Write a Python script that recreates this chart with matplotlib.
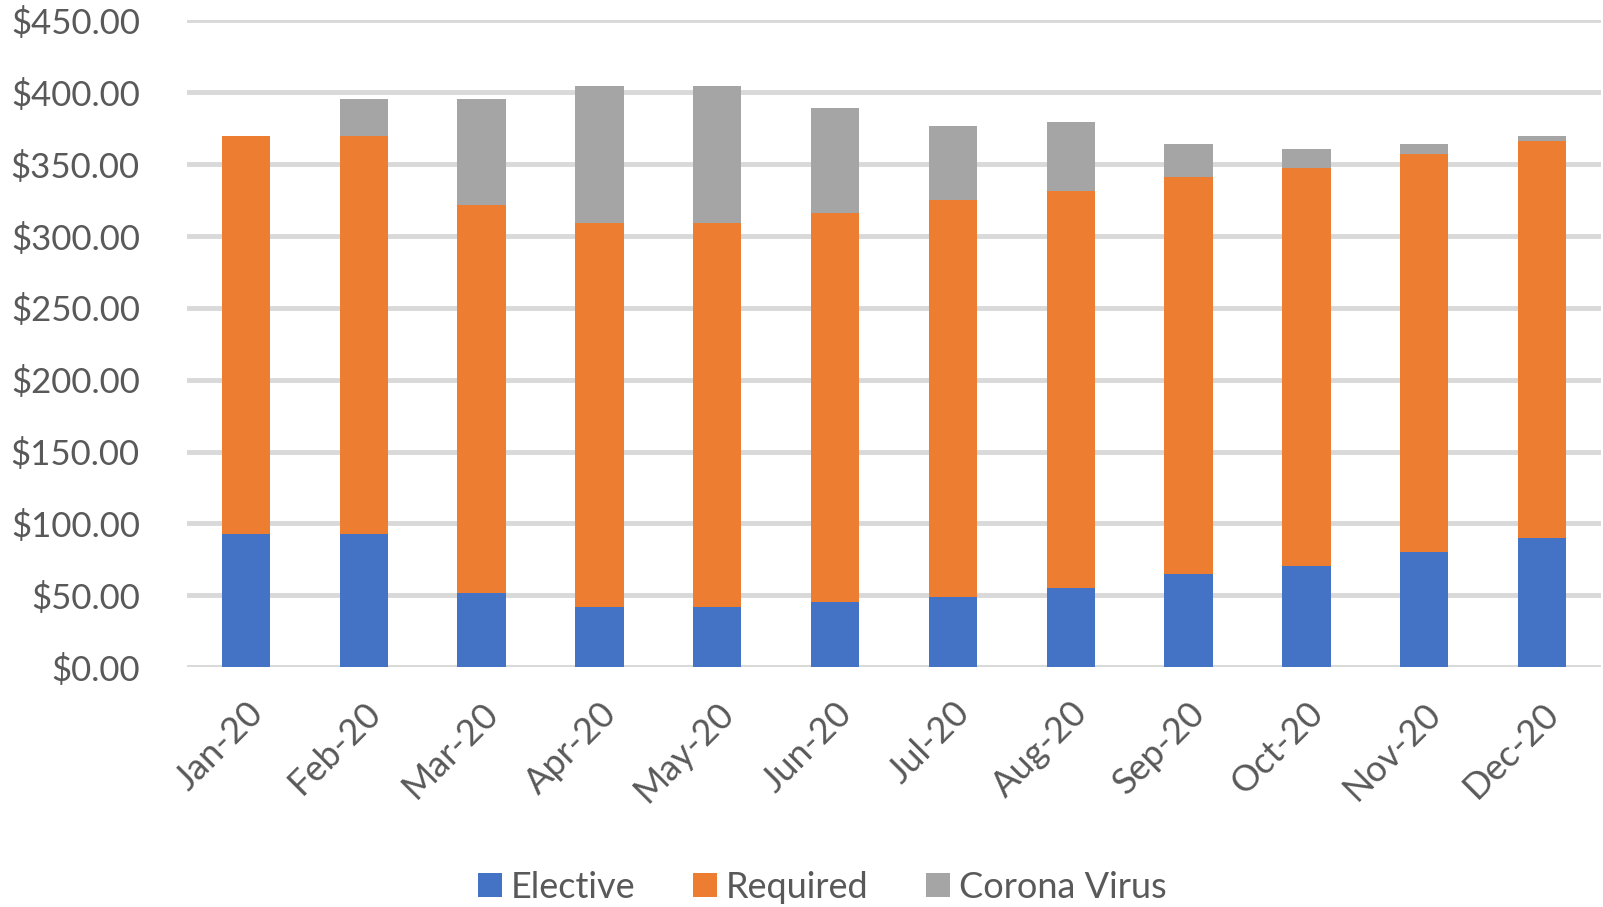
import numpy as np
import matplotlib
matplotlib.use('Agg')
import matplotlib.pyplot as plt

plt.rcParams['font.family'] = ['Lato', 'DejaVu Sans']

# Datos
meses = ['Jan-20', 'Feb-20', 'Mar-20', 'Apr-20', 'May-20', 'Jun-20',
         'Jul-20', 'Aug-20', 'Sep-20', 'Oct-20', 'Nov-20', 'Dec-20']
elective = [92.7, 92.7, 51.5, 41.7, 41.7, 45.2, 48.5, 54.8, 64.4, 70.5, 80.1, 89.6]
required = [276.9, 276.9, 270.1, 267.3, 267.3, 270.6, 276.7, 276.4, 276.4, 276.9, 276.9, 276.7]
corona = [0.0, 25.7, 73.7, 95.4, 95.4, 73.2, 51.2, 48.0, 23.5, 13.1, 6.8, 3.5]
yticks = [0, 50, 100, 150, 200, 250, 300, 350, 400, 450]

c_azul = '#4472C4'
c_naranja = '#ED7D31'
c_gris = '#A5A5A5'
c_texto = '#595959'

fig = plt.figure(figsize=(16.03, 9.07), dpi=100)
ax = fig.add_axes([0.1167, 0.2646, 0.882, 0.7128])

x = np.arange(len(meses))
ancho = 0.41
e = np.array(elective)
r = np.array(required)
c = np.array(corona)

ax.bar(x, e, ancho, color=c_azul, label='Elective', zorder=3)
ax.bar(x, r, ancho, bottom=e, color=c_naranja, label='Required', zorder=3)
ax.bar(x, c, ancho, bottom=e + r, color=c_gris, label='Corona Virus', zorder=3)

ax.set_xlim(-0.5, len(meses) - 0.5)
ax.set_ylim(0, 450)
ax.set_yticks(yticks)
ax.set_yticklabels([f'${v:.2f}' for v in yticks], fontsize=25, color=c_texto)
ax.set_xticks(x)
ax.set_xticklabels(meses, rotation=45, ha='right', rotation_mode='anchor',
                   fontsize=26, color=c_texto)

ax.grid(axis='y', color='#D9D9D9', linewidth=3.5, zorder=0)
ax.tick_params(axis='y', length=0, pad=34)
ax.tick_params(axis='x', length=0, pad=21)
for s in ax.spines.values():
    s.set_visible(False)

fig.legend(loc='center', bbox_to_anchor=(0.513, 0.022), ncol=3, frameon=False,
           fontsize=26, labelcolor=c_texto, handlelength=0.65, handleheight=0.65,
           handletextpad=0.25, columnspacing=1.6)

fig.savefig('out.png', dpi=100)
